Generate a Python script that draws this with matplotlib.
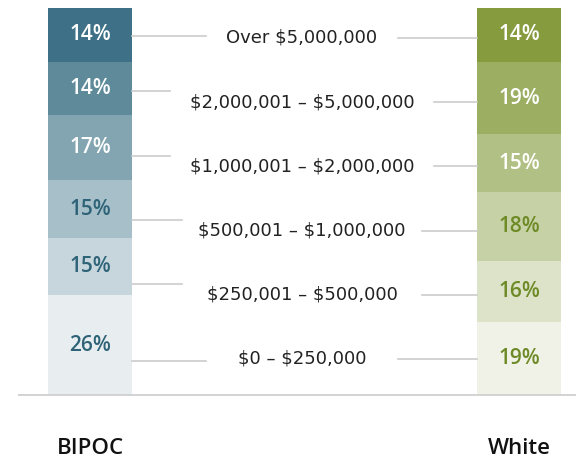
import numpy as np
import matplotlib
matplotlib.use('Agg')
import matplotlib.pyplot as plt

# data
brackets = ['$0 – $250,000', '$250,001 – $500,000', '$500,001 – $1,000,000',
            '$1,000,001 – $2,000,000', '$2,000,001 – $5,000,000', 'Over $5,000,000']
bipoc = [26, 15, 15, 17, 14, 14]
white = [19, 16, 18, 15, 19, 14]
groups = ['BIPOC', 'White']

bipoc_colors = ['#e8eef0', '#c7d6dc', '#a6bfc9', '#82a5b1', '#5e8a9a', '#3e7187']
white_colors = ['#f0f2e7', '#dce3c8', '#c6d2a6', '#b1c084', '#9cae62', '#869a3e']
bipoc_text = ['#2e6378'] * 3 + ['white'] * 3
white_text = ['#6e8a26'] * 3 + ['white'] * 3

plt.rcParams['font.family'] = ['Open Sans', 'DejaVu Sans']

fig = plt.figure(figsize=(5.76, 4.61), dpi=100)
ax = fig.add_axes([0, 0, 1, 1])
ax.set_xlim(0, 576)
ax.set_ylim(-17.22, 103.09)
ax.axis('off')

xs = [90, 519]
w = 84
for x, vals, cols, tcols in [(xs[0], bipoc, bipoc_colors, bipoc_text),
                             (xs[1], white, white_colors, white_text)]:
    bottoms = np.concatenate([[0], np.cumsum(vals)[:-1]])
    ax.bar(x, vals, bottom=bottoms, width=w, color=cols, linewidth=0)
    for v, b, tc in zip(vals, bottoms, tcols):
        ax.text(x, b + v / 2, f'{v}%', ha='center', va='center',
                fontsize=15, color=tc, fontweight='semibold')

# baseline
ax.plot([18, 576], [0, 0], color='#cccccc', lw=1.2, solid_capstyle='butt')

# middle labels and connectors
label_y = np.linspace(9.4, 93.2, 6)
left_off = [-0.5, 2.7, 2.7, 2.8, 2.8, 0.5]
left_end = [206, 182, 182, 170, 170, 206]
right_start = [398, 422, 422, 434, 434, 398]
for lab, y, off, le, rs in zip(brackets, label_y, left_off, left_end, right_start):
    ax.text(302, y, lab, ha='center', va='center', fontsize=13,
            color='#222222', parse_math=False, family='DejaVu Sans')
    ax.plot([xs[0] + w / 2, le], [y + off, y + off], color='#cccccc', lw=1.2)
    ax.plot([rs, xs[1] - w / 2], [y, y], color='#cccccc', lw=1.2)

for x, g in zip(xs, groups):
    ax.text(x, -13.9, g, ha='center', va='center', fontsize=16,
            fontweight='semibold', color='#111111')

fig.savefig('out.png', dpi=100)
